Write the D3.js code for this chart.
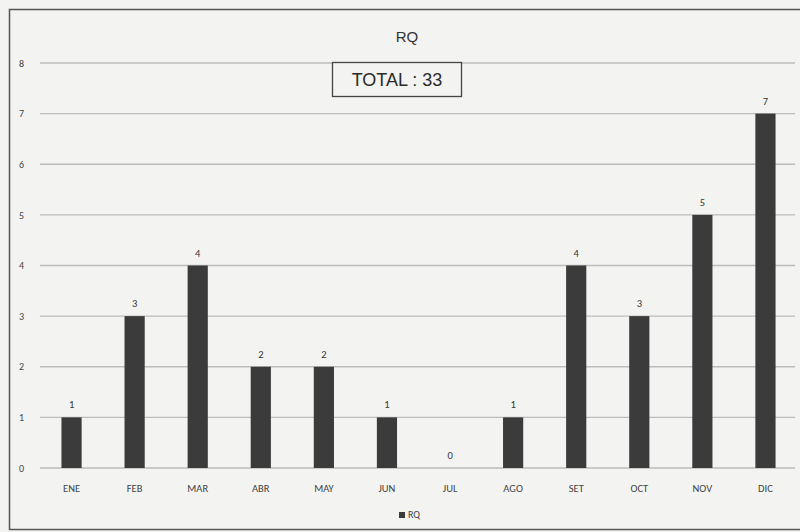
<!DOCTYPE html>
<html>
<head>
<meta charset="utf-8">
<script src="https://cdn.jsdelivr.net/npm/d3@7"></script>
<style>
  html, body { margin: 0; padding: 0; background: #f3f3f1; }
  svg { display: block; }
</style>
</head>
<body>
<svg id="chart" width="800" height="532"></svg>
<script>
// chart data
const months = ["ENE", "FEB", "MAR", "ABR", "MAY", "JUN", "JUL", "AGO", "SET", "OCT", "NOV", "DIC"];
const rqValues = [1, 3, 4, 2, 2, 1, 0, 1, 4, 3, 5, 7];
const yTicks = [0, 1, 2, 3, 4, 5, 6, 7, 8];
const seriesName = "RQ";
const totalLabel = "TOTAL : 33";

const width = 800, height = 532;
const margin = { top: 63, right: 3, bottom: 64, left: 40 };

const svg = d3.select("#chart");
const font = "Calibri, Carlito, 'Open Sans', 'Liberation Sans', Arial, sans-serif";

// outer frame (right side runs off the scan)
svg.append("rect")
    .attr("x", 9.5).attr("y", 9.5)
    .attr("width", 800).attr("height", 520)
    .attr("fill", "#f3f3f1")
    .attr("stroke", "#555").attr("stroke-width", 1.5);

const x = d3.scaleBand()
    .domain(months)
    .range([margin.left, width - margin.right])
    .paddingInner(0.68).paddingOuter(0.34);

const y = d3.scaleLinear()
    .domain([0, 8])
    .range([height - margin.bottom, margin.top]);

// gridlines
svg.append("g")
    .selectAll("line")
    .data(yTicks)
    .enter().append("line")
    .attr("x1", margin.left).attr("x2", width - 5)
    .attr("y1", d => y(d)).attr("y2", d => y(d))
    .attr("stroke", "#bdbdbb").attr("stroke-width", 1.4);

// y axis labels
const yAxis = d3.axisLeft(y).tickValues(yTicks).tickSize(0).tickPadding(0);
svg.append("g")
    .attr("transform", `translate(24,0)`)
    .call(yAxis)
    .call(g => g.select(".domain").remove())
    .call(g => g.selectAll("text")
        .attr("font-family", font).attr("font-size", 10).attr("fill", "#444"));

// x axis labels
const xAxis = d3.axisBottom(x).tickSize(0).tickPadding(17);
svg.append("g")
    .attr("transform", `translate(0,${y(0)})`)
    .call(xAxis)
    .call(g => g.select(".domain").remove())
    .call(g => g.selectAll("text")
        .attr("font-family", font).attr("font-size", 10.5).attr("fill", "#444"));

// bars
svg.append("g")
    .selectAll("rect")
    .data(rqValues)
    .enter().append("rect")
    .attr("x", (d, i) => x(months[i]))
    .attr("y", d => y(d))
    .attr("width", x.bandwidth())
    .attr("height", d => y(0) - y(d))
    .attr("fill", "#3b3b3b");

// value labels
svg.append("g")
    .selectAll("text")
    .data(rqValues)
    .enter().append("text")
    .attr("x", (d, i) => x(months[i]) + x.bandwidth() / 2)
    .attr("y", d => y(d) - 9)
    .attr("text-anchor", "middle")
    .attr("font-family", font).attr("font-size", 10.5).attr("fill", "#333")
    .text(d => d);

// title
svg.append("text")
    .attr("x", 407).attr("y", 42)
    .attr("text-anchor", "middle")
    .attr("font-family", "'Liberation Sans', Arial, sans-serif")
    .attr("font-size", 15).attr("fill", "#333")
    .text(seriesName);

// total box
svg.append("rect")
    .attr("x", 332.5).attr("y", 62.5)
    .attr("width", 129).attr("height", 34)
    .attr("fill", "#f3f3f1")
    .attr("stroke", "#444").attr("stroke-width", 1.3);
svg.append("text")
    .attr("x", 397).attr("y", 86)
    .attr("text-anchor", "middle")
    .attr("font-family", "'Liberation Sans', Arial, sans-serif")
    .attr("font-size", 18).attr("fill", "#2a2a2a")
    .text(totalLabel);

// legend
const legend = svg.append("g").attr("transform", "translate(399,518)");
legend.append("rect")
    .attr("x", 0).attr("y", -6).attr("width", 6).attr("height", 6)
    .attr("fill", "#3b3b3b");
legend.append("text")
    .attr("x", 9).attr("y", 0)
    .attr("font-family", font).attr("font-size", 10).attr("fill", "#444")
    .text(seriesName);
</script>
</body>
</html>
